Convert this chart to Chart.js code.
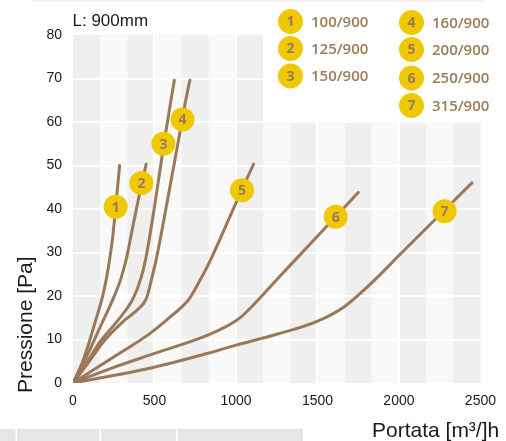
<!DOCTYPE html>
<html>
<head>
<meta charset="utf-8">
<script src="https://cdn.jsdelivr.net/npm/chart.js@4.4.1/dist/chart.umd.min.js"></script>
<style>
  body { margin: 0; background: #fff; }
  canvas { display: block; }
</style>
</head>
<body>
<canvas id="chart" width="506" height="441"></canvas>
<script>
// Data - flow [m3/h] and pressure [Pa] for each duct (L: 900mm)
const seriesLabels = ['100/900', '125/900', '150/900', '160/900', '200/900', '250/900', '315/900'];

const flow1 = [0, 60, 100, 140, 180, 205, 225, 245, 262, 286];
const pres1 = [0, 5, 9.5, 14.5, 19.7, 24, 28.5, 34, 40.5, 50];

const flow2 = [0, 70, 126, 187, 248, 294, 327, 370, 414, 449];
const pres2 = [0, 5, 9.5, 14.5, 19.5, 24, 28.5, 36.5, 44.5, 50.3];

const flow3 = [0, 90, 166, 278, 370, 416, 445, 500, 558, 601, 622];
const pres3 = [0, 5, 9.5, 14.5, 19.5, 24, 28.3, 40.5, 55, 65, 69.6];

const flow4 = [0, 100, 187, 319, 400, 451, 481, 510, 560, 641, 692, 717];
const pres4 = [0, 5, 9.5, 14.5, 17, 19.5, 23.7, 28.3, 38, 54.5, 65, 69.6];

const flow5 = [0, 250, 469, 600, 712, 770, 834, 1007, 1108];
const pres5 = [0, 6, 11.3, 15.3, 19.3, 23, 27.5, 42, 50.3];

const flow6 = [0, 250, 500, 834, 1000, 1050, 1281, 1494, 1750];
const pres6 = [0, 3.6, 6.8, 11.1, 14.3, 15.8, 25, 33.5, 43.8];

const flow7 = [0, 470, 834, 1000, 1250, 1494, 1667, 1829, 2000, 2174, 2276, 2448];
const pres7 = [0, 3.4, 6.9, 8.7, 11.2, 14.1, 17.6, 22.9, 29.3, 35.8, 39.6, 46];

// Numbered badges sitting on each curve
const badgeFlow = [262, 420, 555, 672, 1037, 1612, 2280];
const badgePres = [40.5, 46, 55, 60.6, 44.3, 38.2, 39.5];

// Axis ticks
const xTicks = [0, 500, 1000, 1500, 2000, 2500];
const yTicks = [0, 10, 20, 30, 40, 50, 60, 70, 80];

const LINE_COLOR = '#9a7858';
const BADGE_COLOR = '#f0c800';
const TEXT_BROWN = '#9b7b59';

function toPoints(xs, ys) {
    return xs.map((x, i) => ({ x: x, y: ys[i] }));
}

const curves = [
    [flow1, pres1], [flow2, pres2], [flow3, pres3], [flow4, pres4],
    [flow5, pres5], [flow6, pres6], [flow7, pres7]
];

const lineSets = curves.map((c, i) => ({
    label: seriesLabels[i],
    data: toPoints(c[0], c[1]),
    showLine: true,
    borderColor: LINE_COLOR,
    borderWidth: 3,
    borderCapStyle: 'round',
    pointRadius: 0,
    cubicInterpolationMode: 'monotone',
    order: 1
}));

// lower order is drawn last, so the badges sit on top of the lines
const badgeSet = {
    label: 'badges',
    data: toPoints(badgeFlow, badgePres),
    pointRadius: 12,
    pointHoverRadius: 12,
    backgroundColor: BADGE_COLOR,
    borderWidth: 0,
    order: 0
};

// Background bands, white grid and the white legend corner
const backdrop = {
    id: 'backdrop',
    beforeDatasetsDraw(chart) {
        const c = chart.ctx;
        const xs = chart.scales.x;
        const ys = chart.scales.y;
        const top = chart.chartArea.top;
        const bottom = chart.chartArea.bottom;
        const bandW = 2500 / 15;
        c.save();
        for (let i = 0; i < 15; i++) {
            const x0 = xs.getPixelForValue(i * bandW);
            const x1 = xs.getPixelForValue((i + 1) * bandW);
            c.fillStyle = i % 2 === 0 ? '#efefef' : '#f9f9f9';
            c.fillRect(x0, top, x1 - x0, bottom - top);
        }
        c.strokeStyle = '#ffffff';
        c.lineWidth = 2;
        yTicks.slice(1, -1).forEach(v => {
            const y = Math.round(ys.getPixelForValue(v));
            c.beginPath();
            c.moveTo(chart.chartArea.left, y);
            c.lineTo(chart.chartArea.right, y);
            c.stroke();
        });
        xTicks.slice(1, -1).forEach(v => {
            const x = Math.round(xs.getPixelForValue(v));
            c.beginPath();
            c.moveTo(x, top);
            c.lineTo(x, bottom);
            c.stroke();
        });
        // white corner behind the legend
        const cx = xs.getPixelForValue(7 * bandW);
        c.fillStyle = '#ffffff';
        c.fillRect(cx, 0, chart.width - cx, ys.getPixelForValue(60));
        c.restore();
    }
};

// Badge numbers, legend, titles and page fragments
const decorations = {
    id: 'decorations',
    afterDraw(chart) {
        const c = chart.ctx;
        c.save();

        // numbers in the badges
        const meta = chart.getDatasetMeta(chart.data.datasets.length - 1);
        c.fillStyle = TEXT_BROWN;
        c.font = 'bold 14px "Open Sans"';
        c.textAlign = 'center';
        c.textBaseline = 'middle';
        meta.data.forEach((pt, i) => {
            c.fillText(String(i + 1), pt.x, pt.y + 1);
        });

        // legend (two columns)
        const legendPos = [
            [290.5, 21.5], [290.5, 48.5], [290.5, 76],
            [411.5, 22.5], [411.5, 49.5], [411.5, 78], [411.5, 105.5]
        ];
        seriesLabels.forEach((lab, i) => {
            const [lx, ly] = legendPos[i];
            c.fillStyle = BADGE_COLOR;
            c.beginPath();
            c.arc(lx, ly, 12.5, 0, Math.PI * 2);
            c.fill();
            c.fillStyle = TEXT_BROWN;
            c.font = 'bold 14px "Open Sans"';
            c.textAlign = 'center';
            c.fillText(String(i + 1), lx, ly + 1);
            c.font = '600 15px "Open Sans"';
            c.textAlign = 'left';
            c.fillText(lab, lx + 20.5, ly + 1);
        });

        // titles
        c.fillStyle = '#1a1a1a';
        c.textBaseline = 'alphabetic';
        c.textAlign = 'left';
        c.font = '17px "Liberation Sans"';
        c.fillText('L: 900mm', 72.5, 26);

        c.font = '21px "Liberation Sans"';
        c.fillText('Portata [m\u00b3/]h', 372, 437);

        c.translate(31.5, 393);
        c.rotate(-Math.PI / 2);
        c.fillText('Pressione [Pa]', 0, 0);
        c.setTransform(1, 0, 0, 1, 0, 0);

        // faint rule at the top and table fragment at the bottom
        c.fillStyle = '#f1f1f1';
        c.fillRect(32, 0, 453, 2);
        c.fillStyle = '#e6e6e6';
        c.fillRect(0, 429, 303, 12);
        c.fillStyle = '#ffffff';
        [15.5, 99.5, 176].forEach(x => c.fillRect(x, 429, 1.5, 12));

        c.restore();
    }
};

const ctx = document.getElementById('chart');

new Chart(ctx, {
    type: 'scatter',
    data: { datasets: [...lineSets, badgeSet] },
    options: {
        responsive: false,
        animation: false,
        devicePixelRatio: 1,
        layout: { padding: { top: 35, right: 22, left: 0, bottom: 0 } },
        plugins: {
            legend: { display: false },
            tooltip: { enabled: false }
        },
        scales: {
            x: {
                type: 'linear',
                min: 0,
                max: 2500,
                afterBuildTicks: (s) => { s.ticks = xTicks.map(v => ({ value: v })); },
                ticks: {
                    color: '#1a1a1a',
                    font: { family: '"Liberation Sans"', size: 14 },
                    padding: 10,
                    maxRotation: 0,
                    callback: (v) => String(v)
                },
                grid: { display: false, drawTicks: false },
                border: { display: false },
                afterFit: (s) => { s.height = 58; }
            },
            y: {
                type: 'linear',
                min: 0,
                max: 80,
                afterBuildTicks: (s) => { s.ticks = yTicks.map(v => ({ value: v })); },
                ticks: {
                    color: '#1a1a1a',
                    font: { family: '"Liberation Sans"', size: 14 },
                    padding: 11,
                    callback: (v) => String(v)
                },
                grid: { display: false, drawTicks: false },
                border: { display: false },
                afterFit: (s) => { s.width = 73; }
            }
        }
    },
    plugins: [backdrop, decorations]
});
</script>
</body>
</html>
